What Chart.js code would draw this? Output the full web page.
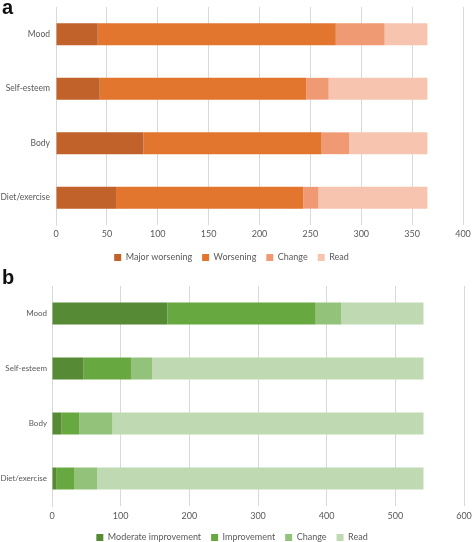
<!DOCTYPE html>
<html>
<head>
<meta charset="utf-8">
<script src="https://cdn.jsdelivr.net/npm/chart.js@4/dist/chart.umd.min.js"></script>
<style>
  body { margin: 0; background: #fff; overflow: hidden; }
  #wrap { position: relative; width: 472px; height: 542px; overflow: hidden; }
  .panel { position: absolute; left: 0; width: 472px; }
  .tag { position: absolute; left: 2px; font: bold 20px "Liberation Sans", Arial, sans-serif; color: #111; }
</style>
</head>
<body>
<div id="wrap">
  <div class="panel" style="top:0;height:272px"><canvas id="chartA"></canvas></div>
  <div class="panel" style="top:270px;height:282px"><canvas id="chartB"></canvas></div>
  <div class="tag" style="top:-4px">a</div>
  <div class="tag" style="top:266px">b</div>
</div>
<script>
// categories (top to bottom)
const categories = ['Mood', 'Self-esteem', 'Body', 'Diet/exercise'];

// panel a - worsening
const majorWorsening = [41, 43, 86, 59];
const worsening = [234, 203, 175, 184];
const changeA = [48, 22, 27, 15];
const readA = [42, 97, 77, 107];
const ticksA = [0, 50, 100, 150, 200, 250, 300, 350, 400];

// panel b - improvement
const moderateImprovement = [168, 46, 14, 6];
const improvement = [216, 69, 26, 26];
const changeB = [37, 31, 48, 34];
const readB = [120, 395, 453, 475];
const ticksB = [0, 100, 200, 300, 400, 500, 600];

const font = { family: 'Lato, sans-serif', size: 9 };
const textColor = '#595959';

function makeChart(id, series, ticks, opts) {
    const ctx = document.getElementById(id).getContext('2d');
    new Chart(ctx, {
        type: 'bar',
        data: {
            labels: categories,
            datasets: series.map(s => ({
                label: s.label,
                data: s.data,
                backgroundColor: s.color,
                borderWidth: 0,
                categoryPercentage: 1,
                barPercentage: 0.4
            }))
        },
        options: {
            indexAxis: 'y',
            responsive: true,
            maintainAspectRatio: false,
            animation: false,
            layout: { padding: { top: opts.top, right: opts.right, left: 0, bottom: 0 } },
            scales: {
                x: {
                    stacked: true,
                    min: 0,
                    max: ticks[ticks.length - 1],
                    afterBuildTicks: axis => { axis.ticks = ticks.map(v => ({ value: v })); },
                    afterFit: axis => {
                        axis.height = opts.xHeight;
                        axis.paddingLeft = 0;
                        axis.paddingRight = 0;
                    },
                    grid: { color: '#d9d9d9', drawTicks: false },
                    border: { display: false },
                    ticks: { color: textColor, font: font, padding: opts.tickPad }
                },
                y: {
                    stacked: true,
                    afterFit: axis => {
                        axis.width = opts.yWidth;
                        axis.paddingTop = 0;
                        axis.paddingBottom = 0;
                    },
                    grid: { display: false, drawTicks: false },
                    border: { display: true, color: '#d9d9d9' },
                    ticks: { color: textColor, font: { family: font.family, size: opts.ySize }, padding: opts.yPad }
                }
            },
            plugins: {
                tooltip: { enabled: false },
                legend: {
                    position: 'bottom',
                    labels: {
                        color: textColor,
                        font: font,
                        boxWidth: 7,
                        boxHeight: 7,
                        padding: 10
                    }
                }
            }
        }
    });
}

makeChart('chartA', [
    { label: 'Major worsening', data: majorWorsening, color: '#c0622a' },
    { label: 'Worsening', data: worsening, color: '#e2762f' },
    { label: 'Change', data: changeA, color: '#f09a74' },
    { label: 'Read', data: readA, color: '#f7c4b0' }
], ticksA, { top: 7, right: 9, yWidth: 56, yPad: 6, ySize: 8.5, xHeight: 18, tickPad: 4 });

makeChart('chartB', [
    { label: 'Moderate improvement', data: moderateImprovement, color: '#578a35' },
    { label: 'Improvement', data: improvement, color: '#68a840' },
    { label: 'Change', data: changeB, color: '#93c27a' },
    { label: 'Read', data: readB, color: '#bfd9b3' }
], ticksB, { top: 16, right: 8, yWidth: 52, yPad: 5, ySize: 8, xHeight: 17, tickPad: 5 });
</script>
</body>
</html>
